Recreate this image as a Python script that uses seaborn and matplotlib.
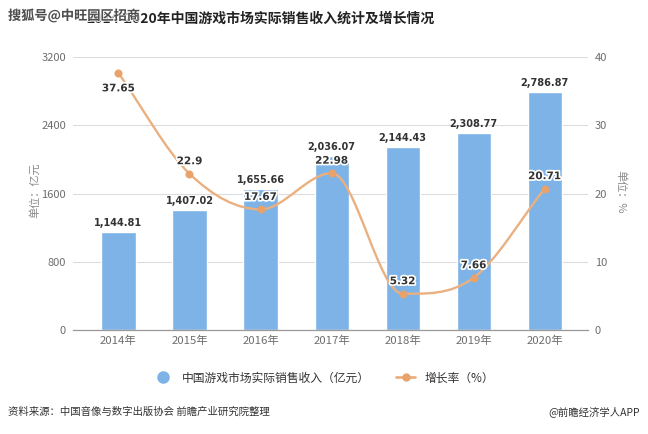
import numpy as np
import pandas as pd
import matplotlib
matplotlib.use("Agg")
import matplotlib.pyplot as plt
from matplotlib.path import Path
from matplotlib.patches import PathPatch
from matplotlib.lines import Line2D
import matplotlib.patheffects as pe
import seaborn as sns

years = ["2014年", "2015年", "2016年", "2017年", "2018年", "2019年", "2020年"]
revenue = [1144.81, 1407.02, 1655.66, 2036.07, 2144.43, 2308.77, 2786.87]
growth = [37.65, 22.9, 17.67, 22.98, 5.32, 7.66, 20.71]
left_ticks = [0, 800, 1600, 2400, 3200]
right_ticks = [0, 10, 20, 30, 40]

sns.set_theme(style="white")
plt.rcParams['font.family'] = ['Noto Sans CJK SC', 'DejaVu Sans']

BAR = "#7DB3E6"
LINE = "#EBB080"
MARK = "#E8A26A"
GRAY = "#6E6E6E"

df = pd.DataFrame({"year": years, "revenue": revenue, "growth": growth})

fig = plt.figure(figsize=(6.48, 4.34), dpi=100)
ax = fig.add_axes([73/648, 104/434, 515/648, 273/434])

sns.barplot(data=df, x="year", y="revenue", color=BAR, width=0.48,
            saturation=1, ax=ax, zorder=2)
ax.set_xlim(-0.64, 6.61)
ax.set_ylim(0, 3200)
ax.set_yticks(left_ticks)
ax.set_yticklabels([str(t) for t in left_ticks])
ax.grid(axis="y", color="#DCDCDC", linewidth=0.8, zorder=0)
ax.set_axisbelow(True)
for s in ["top", "right", "left"]:
    ax.spines[s].set_visible(False)
ax.spines["bottom"].set_color("#999999")
ax.spines["bottom"].set_linewidth(0.9)
ax.tick_params(axis="both", length=0, labelsize=8, labelcolor=GRAY, pad=5)
ax.tick_params(axis="x", pad=4, labelsize=8.2)
ax.set_xlabel("")
ax.set_ylabel("")

for i, v in enumerate(revenue):
    ax.annotate(f"{v:,.2f}", (i, v), xytext=(0, 3), textcoords="offset points",
                ha="center", va="bottom", fontsize=7, fontweight="bold",
                color="#333333", family=["DejaVu Sans"], zorder=5)

ax2 = ax.twinx()
ax2.set_ylim(0, 40)
ax2.set_yticks(right_ticks)
ax2.set_yticklabels([str(t) for t in right_ticks])
for s in ["top", "right", "left", "bottom"]:
    ax2.spines[s].set_visible(False)
ax2.tick_params(axis="y", length=0, labelsize=8, labelcolor=GRAY, pad=5)
ax2.grid(False)

# smooth curve through the data points: cubic bezier with flat tangents at extremes
xs = np.arange(len(growth), dtype=float)
ys = np.array(growth, dtype=float)
n = len(xs)
m = np.zeros(n)
for i in range(n):
    if i == 0:
        m[i] = (ys[1] - ys[0])
    elif i == n - 1:
        m[i] = (ys[-1] - ys[-2])
    else:
        d1 = ys[i] - ys[i - 1]
        d2 = ys[i + 1] - ys[i]
        m[i] = 0.0 if d1 * d2 <= 0 else (ys[i + 1] - ys[i - 1]) / 2
verts = [(xs[0], ys[0])]
codes = [Path.MOVETO]
for i in range(n - 1):
    c1 = (xs[i] + 1/3, ys[i] + m[i] / 3)
    c2 = (xs[i + 1] - 1/3, ys[i + 1] - m[i + 1] / 3)
    verts += [c1, c2, (xs[i + 1], ys[i + 1])]
    codes += [Path.CURVE4] * 3
ax2.add_patch(PathPatch(Path(verts, codes), facecolor="none", edgecolor=LINE,
                        linewidth=1.7, zorder=3))
sns.scatterplot(x=xs, y=ys, color=MARK, s=28, edgecolor=MARK, ax=ax2, zorder=4)
ax2.set_xlim(-0.64, 6.61)

halo = [pe.withStroke(linewidth=2.5, foreground="white")]
for i, v in enumerate(growth):
    off = -11 if i == 0 else 9
    ax2.annotate(f"{v:g}", (i, v), xytext=(0, off), textcoords="offset points",
                 ha="center", va="center", fontsize=7.5, fontweight="bold",
                 color="#333333", family=["DejaVu Sans"], path_effects=halo,
                 zorder=6)

fig.text(35/648, 1 - 190/434, "单位：亿元", rotation=90, ha="center", va="center",
         fontsize=8, color="#8A8A8A")
fig.text(621/648, 1 - 192/434, "单位：%", rotation=-90, ha="center", va="center",
         fontsize=8, color="#8A8A8A")

# legend
h1 = Line2D([], [], marker="o", linestyle="none", markersize=8,
            markerfacecolor=BAR, markeredgecolor=BAR)
h2 = Line2D([], [], marker="o", color=LINE, linewidth=2, markersize=5,
            markerfacecolor=MARK, markeredgecolor=MARK)
fig.legend([h1, h2], ["中国游戏市场实际销售收入（亿元）", "增长率（%）"],
           loc="center", bbox_to_anchor=(0.5, 1 - 378/434), ncol=2,
           frameon=False, fontsize=8.5, handlelength=1.6, columnspacing=2.2,
           labelcolor="#333333")

fig.text(0.5 * (96 + 425) / 648, 1 - 19/434,
         "2014-2020年中国游戏市场实际销售收入统计及增长情况",
         ha="center", va="center", fontsize=10, fontweight="bold", color="#222222")
fig.text(8/648, 1 - 16/434, "搜狐号@中旺园区招商", ha="left", va="center",
         fontsize=9.5, fontweight="bold", color="#333333", alpha=0.85,
         path_effects=[pe.withStroke(linewidth=1.5, foreground="white")])

fig.text(8/648, 1 - 412/434, "资料来源：中国音像与数字出版协会 前瞻产业研究院整理",
         ha="left", va="center", fontsize=7.5, color="#333333")
fig.text(640/648, 1 - 412/434, "@前瞻经济学人APP", ha="right", va="center",
         fontsize=7.5, color="#333333")

fig.savefig("out.png", dpi=100)
